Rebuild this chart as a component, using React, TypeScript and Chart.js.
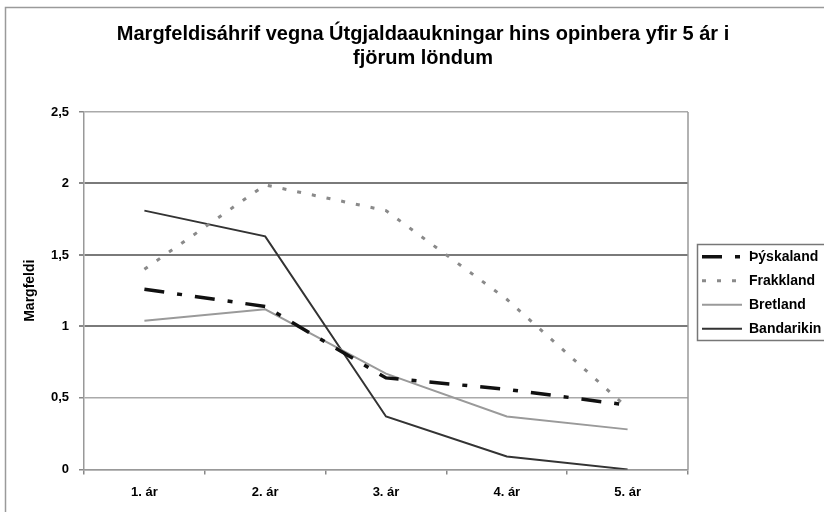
import React, { useEffect, useRef } from 'react';
import { Chart, registerables } from 'chart.js';

Chart.register(...registerables);

const titleLines = ['Margfeldisáhrif vegna Útgjaldaaukningar hins opinbera yfir 5 ár i', 'fjörum löndum'];
const yAxisTitle = 'Margfeldi';
const years = ['1. ár', '2. ár', '3. ár', '4. ár', '5. ár'];
const seriesNames = ['Þýskaland', 'Frakkland', 'Bretland', 'Bandarikin'];
const thyskaland = [1.26, 1.14, 0.64, 0.56, 0.45];
const frakkland = [1.40, 1.99, 1.81, 1.19, 0.43];
const bretland = [1.04, 1.12, 0.67, 0.37, 0.28];
const bandarikin = [1.81, 1.63, 0.37, 0.09, 0.0];
const yMin = 0;
const yMax = 2.5;
const yStep = 0.5;

const FONT = '"Liberation Sans", Arial, Helvetica, sans-serif';
const LEGEND_DX = 4;
const LEGEND_DY = 2;

const framePlugin = {
  id: 'frameAndLegendBox',
  beforeLayout(chart: any) {
    const lg = chart.legend;
    if (lg && !lg.__patched) {
      const origFit = lg.fit.bind(lg);
      lg.fit = function () {
        origFit();
        this.width = 136;
      };
      const origDraw = lg.draw.bind(lg);
      lg.draw = function () {
        const ctx = this.ctx;
        ctx.save();
        ctx.translate(LEGEND_DX, LEGEND_DY);
        origDraw();
        ctx.restore();
      };
      lg.__patched = true;
    }
  },
  beforeDraw(chart: any) {
    const ctx = chart.ctx;
    ctx.save();
    ctx.fillStyle = '#ffffff';
    ctx.fillRect(0, 0, chart.width, chart.height);
    ctx.strokeStyle = '#9a9a9a';
    ctx.lineWidth = 1.5;
    ctx.strokeRect(5.5, 7.5, 900, 700);
    ctx.restore();
  },
  beforeDatasetsDraw(chart: any) {
    const { ctx, chartArea: a } = chart;
    ctx.save();
    ctx.strokeStyle = '#999999';
    ctx.lineWidth = 1.5;
    ctx.beginPath();
    ctx.moveTo(a.right, a.top);
    ctx.lineTo(a.right, a.bottom);
    ctx.stroke();
    ctx.restore();
  },
  afterDraw(chart: any) {
    const lg = chart.legend;
    const hb = lg && lg.legendHitBoxes;
    if (!hb || !hb.length) return;
    const ctx = chart.ctx;
    const first = hb[0];
    const last = hb[hb.length - 1];
    const left = Math.round(first.left + LEGEND_DX - 5) + 0.5;
    const top = Math.round(first.top + LEGEND_DY - 6) + 0.5;
    const bottom = Math.round(last.top + LEGEND_DY + last.height + 4) + 0.5;
    ctx.save();
    ctx.strokeStyle = '#777777';
    ctx.lineWidth = 1.5;
    ctx.strokeRect(left, top, 900, bottom - top);
    ctx.restore();
  },
};

export default function App() {
  const canvasRef = useRef<HTMLCanvasElement | null>(null);

  useEffect(() => {
    const canvas = canvasRef.current;
    if (!canvas) return;
    const chart = new Chart(canvas, {
      type: 'line',
      data: {
        labels: years,
        datasets: [
          {
            label: seriesNames[0],
            data: thyskaland,
            borderColor: '#111111',
            borderWidth: 3.5,
            borderDash: [20, 13, 5, 13],
          },
          {
            label: seriesNames[1],
            data: frakkland,
            borderColor: '#8a8a8a',
            borderWidth: 3,
            borderDash: [4, 11],
          },
          {
            label: seriesNames[2],
            data: bretland,
            borderColor: '#9a9a9a',
            borderWidth: 2,
          },
          {
            label: seriesNames[3],
            data: bandarikin,
            borderColor: '#333333',
            borderWidth: 2,
          },
        ].map((d) => ({
          ...d,
          fill: false,
          tension: 0,
          pointRadius: 0,
          pointHoverRadius: 0,
          borderCapStyle: 'butt' as const,
          borderJoinStyle: 'miter' as const,
        })),
      },
      options: {
        responsive: false,
        animation: false,
        devicePixelRatio: 1,
        events: [],
        layout: { padding: { left: 22, right: 0, top: 0, bottom: 2 } },
        plugins: {
          title: {
            display: true,
            text: titleLines,
            color: '#000000',
            font: { family: FONT, size: 20, weight: 'bold', lineHeight: 1.2 },
            padding: { top: 22, bottom: 42 },
          },
          legend: {
            position: 'right',
            fullSize: false,
            labels: {
              usePointStyle: true,
              pointStyle: 'line',
              pointStyleWidth: 40,
              padding: 10,
              color: '#000000',
              font: { family: FONT, size: 14, weight: 'bold' },
              generateLabels: (chart: any) =>
                chart.data.datasets.map((ds: any, i: number) => ({
                  text: ds.label,
                  datasetIndex: i,
                  fillStyle: ds.borderColor,
                  strokeStyle: ds.borderColor,
                  lineWidth: ds.borderWidth,
                  lineDash: ds.borderDash || [],
                  lineCap: 'butt',
                  pointStyle: 'line',
                  hidden: false,
                  fontColor: '#000000',
                })),
            },
          },
          tooltip: { enabled: false },
        },
        scales: {
          x: {
            type: 'category',
            offset: true,
            grid: {
              offset: true,
              drawOnChartArea: false,
              drawTicks: true,
              tickLength: 5,
              color: '#888888',
              lineWidth: 1.5,
            },
            border: { display: true, color: '#999999', width: 1.5 },
            ticks: {
              color: '#000000',
              font: { family: FONT, size: 13, weight: 'bold' },
              padding: 10,
              maxRotation: 0,
              autoSkip: false,
            },
          },
          y: {
            min: yMin,
            max: yMax,
            afterFit: (scale: any) => {
              scale.width = 62;
            },
            ticks: {
              stepSize: yStep,
              color: '#000000',
              padding: 10,
              font: { family: FONT, size: 13, weight: 'bold' },
              callback: (v: any) => String(v).replace('.', ','),
            },
            grid: {
              drawTicks: true,
              tickLength: 5,
              tickColor: '#888888',
              color: (c: any) => {
                const v = c.tick ? c.tick.value : 0;
                return v === 1 || v === 1.5 || v === 2 ? '#7a7a7a' : '#aaaaaa';
              },
              lineWidth: (c: any) => {
                const v = c.tick ? c.tick.value : 0;
                return v === 1 || v === 1.5 || v === 2 ? 2 : 1.5;
              },
            },
            border: { display: true, color: '#999999', width: 1.5 },
            title: {
              display: true,
              text: yAxisTitle,
              color: '#000000',
              font: { family: FONT, size: 14, weight: 'bold' },
              padding: 0,
            },
          },
        },
      },
      plugins: [framePlugin],
    } as any);
    return () => chart.destroy();
  }, []);

  return (
    <div style={{ position: 'absolute', left: 0, top: 0, width: 824, height: 512, background: '#ffffff', overflow: 'hidden' }}>
      <canvas ref={canvasRef} width={824} height={512} style={{ display: 'block', width: 824, height: 512 }} />
    </div>
  );
}
